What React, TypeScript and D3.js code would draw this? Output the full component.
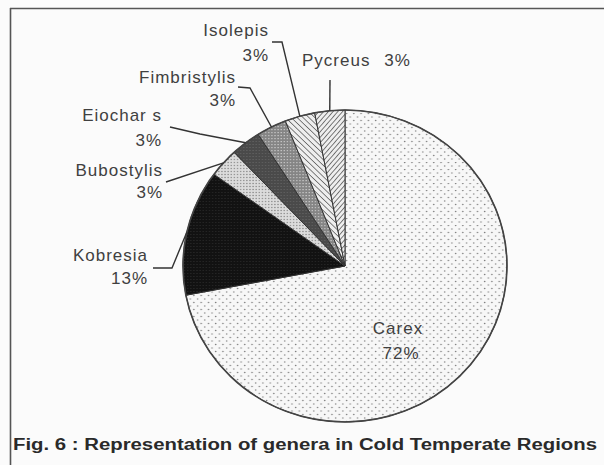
import React from "react";
import * as d3 from "d3";

const genera = ["Carex", "Kobresia", "Bubostylis", "Eiochar s", "Fimbristylis", "Isolepis", "Pycreus"];
const shares = [72, 13, 3, 3, 3, 3, 3];
const patternIds = ["pCarex", "pKob", "pBulb", "pEleo", "pFimb", "pIso", "pPyc"];
const caption = "Fig. 6 : Representation of genera in Cold Temperate Regions";

const W = 604, H = 465;
const cx = 345, cy = 266, ry = 156, rx = 162;
const sx = rx / ry;

const labelLayout: any[] = [
  { x: 398, y1: 334, y2: 359, anchor: "middle", leader: null },
  { x: 148, y1: 261, y2: 284, anchor: "end", leader: [[153, 268], [172, 268]] },
  { x: 163, y1: 176, y2: 198, anchor: "end", leader: [[166, 182]] },
  { x: 162, y1: 121, y2: 146, anchor: "end", leader: [[170, 127], [200, 134]] },
  { x: 236, y1: 83, y2: 106, anchor: "end", leader: [[238, 87], [250, 88]] },
  { x: 269, y1: 36, y2: 61, anchor: "end", leader: [[272, 42], [282, 42]] },
  { x: 302, y1: 66, y2: null, anchor: "start", leader: [[330, 80]] },
];

export default function App() {
  const pie = d3.pie<number>().sort(null).value((d) => d).startAngle(0).endAngle(2 * Math.PI);
  const arcs = pie(shares);
  const arc = d3.arc<any>().innerRadius(0).outerRadius(ry);
  const textStyle: any = { fontFamily: "Liberation Sans, Arial, sans-serif", fontSize: 17, letterSpacing: 1, fill: "#404040" };

  const edgePoint = (a: any) => {
    const m = (a.startAngle + a.endAngle) / 2;
    return [cx + rx * Math.sin(m), cy - ry * Math.cos(m)];
  };

  return (
    <div style={{ position: "fixed", left: 0, top: 0 }}>
      <svg width={W} height={H} style={{ display: "block", background: "#fbfbfb" }}>
        <defs>
          <pattern id="pCarex" width="7" height="7" patternUnits="userSpaceOnUse">
            <rect width="7" height="7" fill="#f7f7f7" />
            <circle cx="1.5" cy="1.5" r="0.8" fill="#808080" />
            <circle cx="5" cy="5" r="0.8" fill="#909090" />
          </pattern>
          <pattern id="pKob" width="3" height="3" patternUnits="userSpaceOnUse">
            <rect width="3" height="3" fill="#121212" />
            <rect x="1" y="1" width="1" height="1" fill="#2c2c2c" />
          </pattern>
          <pattern id="pBulb" width="3" height="3" patternUnits="userSpaceOnUse">
            <rect width="3" height="3" fill="#dcdcdc" />
            <circle cx="1.5" cy="1.5" r="0.7" fill="#888" />
          </pattern>
          <pattern id="pEleo" width="3" height="3" patternUnits="userSpaceOnUse">
            <rect width="3" height="3" fill="#4a4a4a" />
            <rect x="1" y="1" width="1" height="1" fill="#666" />
          </pattern>
          <pattern id="pFimb" width="3" height="3" patternUnits="userSpaceOnUse">
            <rect width="3" height="3" fill="#858585" />
            <rect x="1" y="1" width="1.2" height="1.2" fill="#c8c8c8" />
          </pattern>
          <pattern id="pIso" width="4" height="4" patternUnits="userSpaceOnUse" patternTransform="rotate(-45)">
            <rect width="4" height="4" fill="#eee" />
            <line x1="0" y1="0" x2="0" y2="4" stroke="#555" strokeWidth="1.4" />
          </pattern>
          <pattern id="pPyc" width="3.5" height="3.5" patternUnits="userSpaceOnUse" patternTransform="rotate(40)">
            <rect width="3.5" height="3.5" fill="#eee" />
            <line x1="0" y1="0" x2="0" y2="3.5" stroke="#4a4a4a" strokeWidth="1.4" />
          </pattern>
        </defs>

        <line x1={10} y1={8.5} x2={W} y2={8.5} stroke="#555" strokeWidth={1.6} />
        <line x1={10.5} y1={8} x2={10.5} y2={H} stroke="#555" strokeWidth={1.6} />

        <g transform={`translate(${cx},${cy}) scale(${sx},1)`}>
          {arcs.map((a, i) => (
            <path key={i} d={arc(a) as string} fill={`url(#${patternIds[i]})`} stroke="#333" strokeWidth={1} vectorEffect="non-scaling-stroke" />
          ))}
          <ellipse cx={0} cy={0} rx={ry} ry={ry} fill="none" stroke="#444" strokeWidth={1.6} vectorEffect="non-scaling-stroke" />
        </g>

        {arcs.map((a, i) => {
          const L = labelLayout[i];
          if (!L.leader) return null;
          const pts = [...L.leader, edgePoint(a)];
          return <path key={"l" + i} d={d3.line()(pts as any) as string} fill="none" stroke="#333" strokeWidth={1.4} />;
        })}

        {genera.map((g, i) => {
          const L = labelLayout[i];
          if (L.y2 === null) {
            return (
              <text key={"t" + i} x={L.x} y={L.y1} textAnchor={L.anchor} style={textStyle}>
                {g}{"  "}<tspan dx={8}>{shares[i]}%</tspan>
              </text>
            );
          }
          return (
            <g key={"t" + i}>
              <text x={L.x} y={L.y1} textAnchor={L.anchor} style={textStyle}>{g}</text>
              <text x={L.anchor === "middle" ? L.x + 3 : L.x} y={L.y2} textAnchor={L.anchor} style={textStyle}>{shares[i]}%</text>
            </g>
          );
        })}

        <text x={13} y={450} textLength={584} lengthAdjust="spacingAndGlyphs"
          style={{ fontFamily: "Liberation Sans, Arial, sans-serif", fontSize: 16, fontWeight: "bold", fill: "#2a2a2a" }}>
          {caption}
        </text>
      </svg>
    </div>
  );
}
